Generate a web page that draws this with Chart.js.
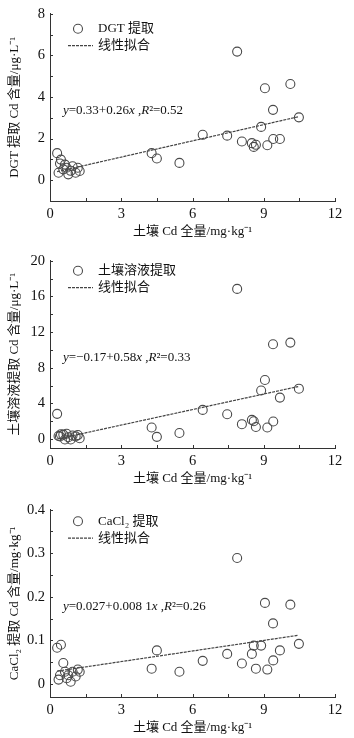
<!DOCTYPE html>
<html>
<head>
<meta charset="utf-8">
<script src="https://cdn.jsdelivr.net/npm/chart.js@4.4.0/dist/chart.umd.min.js"></script>
<style>
    html, body { margin: 0; padding: 0; background: #fff; }
    .panel { position: absolute; left: 0; width: 354px; height: 242px; }
</style>
</head>
<body>
<div class="panel" style="top:0"><canvas id="dgtChart" width="354" height="242"></canvas></div>
<div class="panel" style="top:247px"><canvas id="solutionChart" width="354" height="242"></canvas></div>
<div class="panel" style="top:496px"><canvas id="cacl2Chart" width="354" height="242"></canvas></div>
<script>
// 土壤 Cd 全量 (mg/kg), same samples in all three panels
const soilCd = [0.30, 0.36, 0.42, 0.46, 0.56, 0.63, 0.70, 0.77, 0.87, 0.95, 1.08, 1.17, 1.25,
    4.28, 4.50, 5.45,
    6.43, 7.46, 7.88, 8.08, 8.50, 8.58, 8.67, 8.89, 9.05, 9.15, 9.39, 9.40, 9.68, 10.12, 10.48];

const dgtCd = [1.30, 0.36, 0.80, 0.99, 0.52, 0.75, 0.60, 0.28, 0.45, 0.67, 0.36, 0.60, 0.44,
    1.30, 1.04, 0.83,
    2.18, 2.14, 6.18, 1.86, 1.78, 1.60, 1.70, 2.56, 4.42, 1.68, 3.38, 1.98, 1.98, 4.62, 3.02];

const solutionCd = [2.83, 0.35, 0.30, 0.55, 0.50, -0.05, 0.60, 0.20, -0.05, 0.40, 0.30, 0.45, 0.10,
    1.30, 0.25, 0.68,
    3.27, 2.79, 16.84, 1.67, 2.15, 2.00, 1.35, 5.45, 6.62, 1.30, 10.63, 1.97, 4.65, 10.82, 5.65];

const cacl2Cd = [0.083, 0.010, 0.020, 0.090, 0.048, 0.028, 0.013, 0.020, 0.005, 0.028, 0.017, 0.033, 0.028,
    0.035, 0.077, 0.028,
    0.053, 0.069, 0.289, 0.047, 0.069, 0.088, 0.035, 0.088, 0.186, 0.033, 0.139, 0.054, 0.077, 0.182, 0.092];

const xTicks = [0, 3, 6, 9, 12];
const dgtTicks = [0, 2, 4, 6, 8];
const solutionTicks = [0, 4, 8, 12, 16, 20];
const cacl2Ticks = [0, 0.1, 0.2, 0.3, 0.4];

// 拟合线 y = a + b x
const fitRange = [0.3, 10.45];
const dgtFit = [0.33, 0.26];
const solutionFit = [-0.17, 0.58];
const cacl2Fit = [0.027, 0.0081];

const FONT = '"Liberation Serif", "Noto Sans CJK SC", serif';
const TEXT = '#111';

// inward ticks, legend inside the plot, fit equation
const panelDecor = {
    id: 'panelDecor',
    afterDraw(chart, args, opts) {
        const ctx = chart.ctx;
        const { left, top, bottom } = chart.chartArea;
        const xs = chart.scales.x, ys = chart.scales.y;
        ctx.save();

        ctx.strokeStyle = '#333';
        ctx.lineWidth = 1;
        ctx.beginPath();
        for (let v = opts.xMinor; v <= xs.max + 1e-9; v += opts.xMinor) {
            const px = Math.round(xs.getPixelForValue(v)) + 0.5;
            ctx.moveTo(px, bottom);
            ctx.lineTo(px, bottom - 3);
        }
        for (let v = 0; v <= ys.max + 1e-9; v += opts.yMinor) {
            const py = Math.round(ys.getPixelForValue(v)) + 0.5;
            ctx.moveTo(left, py);
            ctx.lineTo(left + 3, py);
        }
        ctx.stroke();

        // legend
        const pts = chart.data.datasets[0];
        const fit = chart.data.datasets[1];
        const ly = top + opts.legendDy;
        ctx.beginPath();
        ctx.arc(78, ly, pts.pointRadius, 0, Math.PI * 2);
        ctx.strokeStyle = pts.borderColor;
        ctx.lineWidth = pts.borderWidth;
        ctx.stroke();

        ctx.beginPath();
        ctx.setLineDash(fit.borderDash);
        ctx.strokeStyle = fit.borderColor;
        ctx.lineWidth = fit.borderWidth;
        ctx.moveTo(68, ly + 17);
        ctx.lineTo(93, ly + 17);
        ctx.stroke();
        ctx.setLineDash([]);

        ctx.fillStyle = TEXT;
        ctx.textBaseline = 'middle';
        ctx.textAlign = 'left';
        ctx.font = '13px ' + FONT;
        ctx.fillText(pts.label, 98, ly);
        ctx.fillText(fit.label, 98, ly + 17);

        // equation, italic variables
        let ex = 63;
        const ey = top + opts.eqDy;
        opts.equation.forEach(function (seg) {
            ctx.font = (seg.i ? 'italic ' : '') + '13px ' + FONT;
            ctx.fillText(seg.t, ex, ey);
            ex += ctx.measureText(seg.t).width;
        });
        ctx.restore();
    }
};

function makePanel(id, values, yTicks, yMin, yMax, yMinor, yTitle, label, coef, equation, legendDy) {
    const a = coef[0], b = coef[1];
    const ctx = document.getElementById(id).getContext('2d');
    return new Chart(ctx, {
        type: 'scatter',
        data: {
            datasets: [{
                label: label,
                data: soilCd.map((x, i) => ({ x: x, y: values[i] })),
                pointStyle: 'circle',
                pointRadius: 4.5,
                borderColor: '#4a4a4a',
                borderWidth: 1.1,
                backgroundColor: 'rgba(0,0,0,0)'
            },
            {
                label: '线性拟合',
                data: fitRange.map(x => ({ x: x, y: a + b * x })),
                showLine: true,
                pointRadius: 0,
                borderColor: '#444',
                borderWidth: 1.2,
                borderDash: [3, 1]
            }]
        },
        options: {
            responsive: false,
            animation: false,
            events: [],
            layout: { padding: { top: 11, right: 19, left: 0, bottom: 0 } },
            scales: {
                x: {
                    type: 'linear',
                    min: 0,
                    max: 12,
                    afterBuildTicks: s => { s.ticks = xTicks.map(v => ({ value: v })); },
                    afterFit: s => { s.height = 41; },
                    grid: { display: false, drawTicks: false },
                    border: { color: '#333', width: 1 },
                    ticks: {
                        padding: 4,
                        color: TEXT,
                        autoSkip: false,
                        maxRotation: 0,
                        font: { family: FONT, size: 14.5 },
                        callback: v => String(v)
                    },
                    title: {
                        display: true,
                        text: '土壤 Cd 全量/mg·kg⁻¹',
                        color: TEXT,
                        font: { family: FONT, size: 13 },
                        padding: { top: 3, bottom: 3 }
                    }
                },
                y: {
                    min: yMin,
                    max: yMax,
                    afterBuildTicks: s => { s.ticks = yTicks.map(v => ({ value: v })); },
                    afterFit: s => { s.width = 50; },
                    grid: { display: false, drawTicks: false },
                    border: { color: '#333', width: 1 },
                    ticks: {
                        padding: 5,
                        color: TEXT,
                        font: { family: FONT, size: 14.5 },
                        callback: v => String(v)
                    },
                    title: {
                        display: true,
                        text: yTitle,
                        color: TEXT,
                        font: { family: FONT, size: 13 },
                        padding: { top: 7, bottom: 7 }
                    }
                }
            },
            plugins: {
                legend: { display: false },
                tooltip: { enabled: false },
                panelDecor: { xMinor: 1.5, yMinor: yMinor, equation: equation, legendDy: legendDy, eqDy: 97 }
            }
        },
        plugins: [panelDecor]
    });
}

makePanel('dgtChart', dgtCd, dgtTicks, -1, 8, 1, 'DGT 提取 Cd 含量/μg·L⁻¹', 'DGT 提取', dgtFit,
    [{ t: 'y', i: true }, { t: '=0.33+0.26' }, { t: 'x', i: true }, { t: ' ,' }, { t: 'R', i: true }, { t: '²=0.52' }], 15);

makePanel('solutionChart', solutionCd, solutionTicks, -1, 20, 2, '土壤溶液提取 Cd 含量/μg·L⁻¹', '土壤溶液提取', solutionFit,
    [{ t: 'y', i: true }, { t: '=−0.17+0.58' }, { t: 'x', i: true }, { t: ' ,' }, { t: 'R', i: true }, { t: '²=0.33' }], 10);

makePanel('cacl2Chart', cacl2Cd, cacl2Ticks, -0.03, 0.4, 0.05, 'CaCl₂ 提取 Cd 含量/mg·kg⁻¹', 'CaCl₂ 提取', cacl2Fit,
    [{ t: 'y', i: true }, { t: '=0.027+0.008 1' }, { t: 'x', i: true }, { t: ' ,' }, { t: 'R', i: true }, { t: '²=0.26' }], 11.5);
</script>
</body>
</html>
